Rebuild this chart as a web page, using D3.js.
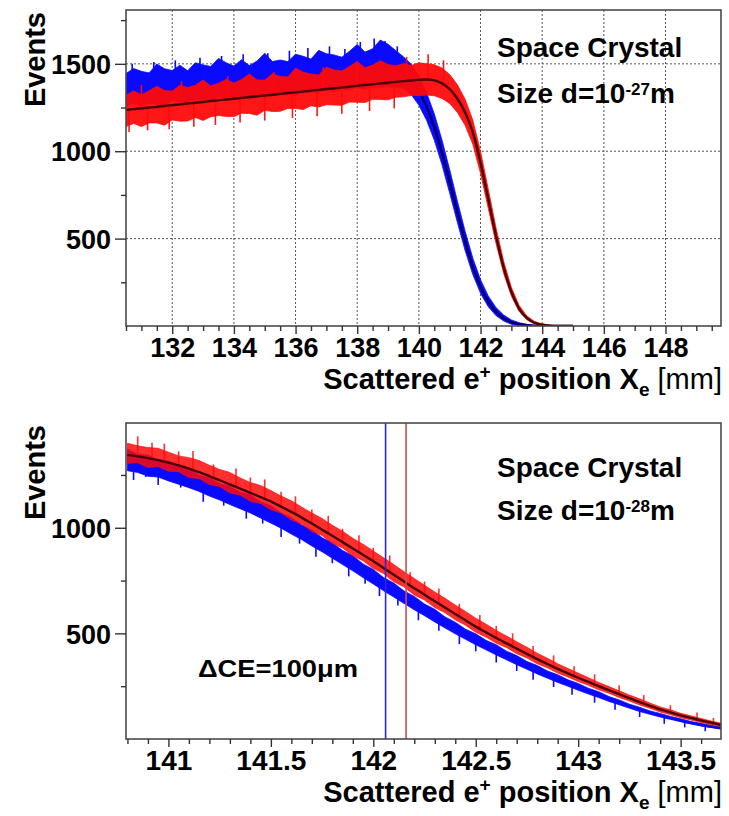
<!DOCTYPE html>
<html><head><meta charset="utf-8">
<script src="https://cdn.jsdelivr.net/npm/d3@7"></script>
<style>
body{margin:0;background:#fff}
svg text{font-family:"Liberation Sans",Arial,Helvetica,sans-serif;font-weight:bold;fill:#000}
</style>
</head><body>
<svg id="chart" width="729" height="816"></svg>
<script>
// ---------------- DATA ----------------
// Top panel: d = 1e-27 m, bin centres (mm)
const topX = [130.5,130.75,131,131.25,131.5,131.75,132,132.25,132.5,132.75,133,133.25,133.5,133.75,134,134.25,134.5,134.75,135,135.25,135.5,135.75,136,136.25,136.5,136.75,137,137.25,137.5,137.75,138,138.25,138.5,138.75,139,139.25,139.5,139.75,140,140.25,140.5,140.75,141,141.25,141.5,141.75,142,142.25,142.5,142.75,143,143.25,143.5,143.75,144,144.25,144.5,144.75,145];
const topBlueFit = [1350,1353,1357,1360,1364,1367,1370,1374,1377,1380,1384,1387,1391,1394,1397,1401,1404,1408,1411,1414,1418,1421,1424,1428,1431,1435,1438,1441,1445,1448,1451,1455,1458,1461,1462,1458,1445,1410,1345,1255,1138,992,826,652,486,340,225,140,82,45,22,10,4,1,0,0,0,0,0];
const topBlueHi = [1445,1473,1457,1448,1499,1472,1462,1492,1461,1506,1494,1485,1531,1506,1487,1524,1490,1516,1561,1513,1522,1513,1555,1543,1527,1577,1558,1551,1538,1572,1611,1567,1586,1636,1612,1576,1540,1498,1430,1335,1214,1064,894,714,542,388,265,172,106,63,35,19,10,5,3,2,1,0,0];
const topBlueLo = [1260,1275,1255,1275,1268,1257,1290,1282,1277,1296,1289,1282,1309,1304,1299,1315,1296,1320,1317,1314,1334,1325,1320,1340,1339,1337,1352,1339,1355,1353,1363,1355,1366,1365,1372,1364,1357,1325,1263,1177,1064,922,760,592,432,294,187,110,60,29,10,2,0,0,0,0,0,0,0];
const topRedFit = [1236,1241,1245,1250,1254,1259,1264,1268,1273,1277,1282,1287,1291,1296,1300,1305,1310,1314,1319,1323,1328,1333,1337,1342,1346,1351,1356,1360,1365,1369,1374,1379,1383,1388,1392,1397,1401,1405,1408,1410,1405,1388,1355,1300,1222,1108,935,728,518,335,195,100,46,18,7,2,0,0,0];
const topRedHi = [1321,1345,1323,1346,1372,1347,1344,1378,1365,1377,1408,1373,1389,1411,1390,1410,1442,1408,1407,1443,1428,1425,1475,1452,1442,1436,1481,1465,1459,1485,1514,1477,1493,1518,1496,1489,1501,1491,1506,1500,1495,1476,1439,1380,1298,1178,999,784,564,371,221,118,58,26,12,5,1,0,0];
const topRedLo = [1141,1159,1141,1162,1162,1149,1179,1172,1173,1193,1176,1197,1205,1198,1198,1217,1216,1206,1234,1227,1228,1245,1245,1238,1260,1253,1266,1264,1263,1281,1280,1279,1297,1296,1294,1309,1311,1319,1318,1322,1317,1302,1273,1222,1148,1040,873,674,474,301,171,84,36,12,3,0,0,0,0];
const topBlueFitFrom = 139.5;   // blue fit curve only visible on the edge
// isolated tall bins: [x, base, tip]
const topBlueSpikes = [[130.7,1352,1500],[131.4,1362,1510],[132.1,1371,1520],[132.9,1383,1535],[133.6,1392,1545],[134.3,1402,1555],[135.1,1412,1560],[135.8,1422,1575],[136.4,1430,1590],[137.1,1439,1600],[137.6,1446,1585],[138.1,1452,1625],[138.55,1458,1645],[138.9,1461,1630],[139.3,1455,1600]];
const topRedSpikes = [[130.6,1238,1110],[131.2,1249,1120],[131.9,1262,1125],[132.7,1276,1140],[133.4,1289,1150],[134.2,1304,1165],[135.0,1319,1175],[135.9,1335,1190],[136.7,1350,1200],[137.5,1365,1215],[138.4,1381,1230],[139.2,1396,1245],[131.0,1245,1380],[132.3,1269,1400],[133.8,1297,1430],[135.3,1324,1455],[136.9,1354,1480],[138.0,1374,1500],[139.6,1403,1540],[140.3,1410,1555],[140.8,1385,1520]];

// Bottom panel: d = 1e-28 m (zoom on the edge)
const botX = [140.8,140.85,140.9,140.95,141,141.05,141.1,141.15,141.2,141.25,141.3,141.35,141.4,141.45,141.5,141.55,141.6,141.65,141.7,141.75,141.8,141.85,141.9,141.95,142,142.05,142.1,142.15,142.2,142.25,142.3,142.35,142.4,142.45,142.5,142.55,142.6,142.65,142.7,142.75,142.8,142.85,142.9,142.95,143,143.05,143.1,143.15,143.2,143.25,143.3,143.35,143.4,143.45,143.5,143.55,143.6,143.65,143.7];
const botRedFit = [1345,1338,1330,1320,1308,1295,1280,1263,1245,1225,1205,1185,1165,1145,1125,1100,1075,1048,1020,991,962,932,902,872,842,810,778,746,714,683,652,622,592,562,532,505,478,453,428,403,378,355,332,311,290,270,250,231,212,193,175,157,140,126,112,100,88,77,66];
const botRedHi = [1400,1388,1380,1376,1358,1340,1332,1318,1296,1276,1262,1236,1214,1200,1176,1150,1128,1098,1070,1044,1012,984,950,922,890,858,826,792,760,728,696,666,634,604,572,544,514,488,460,434,406,382,356,334,312,290,268,248,228,208,190,170,152,138,122,110,97,85,74];
const botRedLo = [1305,1308,1285,1290,1268,1265,1238,1233,1205,1195,1165,1155,1125,1115,1085,1070,1037,1018,982,963,926,904,867,844,807,783,744,720,682,658,622,598,564,539,505,483,453,433,404,384,356,337,312,294,272,254,233,217,197,180,161,145,128,115,101,90,78,68,58];
const botBlueFit = [1328,1317,1305,1292,1278,1261,1243,1223,1203,1183,1163,1143,1123,1098,1073,1046,1018,989,960,930,900,870,840,808,776,744,712,681,650,620,590,560,530,503,476,451,426,401,376,353,330,309,288,268,248,229,210,191,173,156,139,125,111,99,87,76,66,58,50];
const botBlueHi = [1373,1347,1345,1320,1316,1289,1279,1249,1238,1209,1197,1168,1156,1123,1105,1070,1049,1013,990,953,929,892,868,829,803,764,738,701,675,639,614,578,553,520,498,467,446,416,395,367,348,322,304,280,263,240,224,201,185,165,150,133,121,107,96,83,74,64,56];
const botBlueLo = [1270,1262,1244,1240,1222,1206,1190,1172,1150,1132,1110,1090,1070,1046,1022,998,970,944,914,886,856,826,796,764,734,702,672,642,612,584,554,526,498,472,446,422,398,375,352,330,308,288,268,250,231,213,196,178,162,146,130,117,104,93,82,71,62,55,47];
const botBlueFitVisible = false;  // hidden under the blue histogram
const botRedSpikes = [[140.85,1338,1433],[140.92,1326,1402],[140.98,1313,1398],[141.05,1295,1362],[141.12,1273,1363],[141.22,1237,1300],[141.33,1193,1281],[141.4,1165,1238],[141.47,1137,1229],[141.55,1100,1170],[141.62,1064,1149],[141.7,1020,1086],[141.78,973,1057],[141.85,932,995],[141.93,884,964],[142.0,842,905],[142.08,791,869],[142.18,727,790],[142.25,683,745],[142.32,640,712],[142.42,580,640],[142.52,521,587],[142.6,478,535],[142.68,438,500],[142.78,388,440],[142.88,341,396],[142.98,298,345],[143.08,258,306],[143.2,212,255],[143.32,168,208],[143.45,126,160],[143.58,93,125],[143.66,73,100]];
const botBlueSpikes = [[140.83,1321,1226],[140.89,1307,1240],[140.95,1292,1202],[141.06,1257,1190],[141.17,1215,1123],[141.27,1175,1105],[141.38,1131,1043],[141.46,1093,1020],[141.55,1046,956],[141.64,995,925],[141.72,948,863],[141.8,900,832],[141.88,852,770],[141.96,802,735],[142.03,757,677],[142.12,700,632],[142.22,638,562],[142.32,578,512],[142.42,519,449],[142.5,476,415],[142.6,426,362],[142.7,376,322],[142.78,339,281],[142.88,296,246],[142.97,260,210],[143.08,214,172],[143.18,180,138],[143.3,139,104],[143.42,106,72],[143.52,85,55],[143.62,63,37]];
const ceBlue = 142.06, ceRed = 142.16;

// Axis ticks / labels
const topXMajor = [132,134,136,138,140,142,144,146,148];
const topXMinor = [130.5,131,131.5,132.5,133,133.5,134.5,135,135.5,136.5,137,137.5,138.5,139,139.5,140.5,141,141.5,142.5,143,143.5,144.5,145,145.5,146.5,147,147.5,148.5,149,149.5];
const topYMajor = [500,1000,1500];
const topYMinor = [250,750,1250,1750];
const botXMajor = [141,141.5,142,142.5,143,143.5];
const botXMinor = [140.8,140.9,141.1,141.2,141.3,141.4,141.6,141.7,141.8,141.9,142.1,142.2,142.3,142.4,142.6,142.7,142.8,142.9,143.1,143.2,143.3,143.4,143.6];
const botYMajor = [500,1000];
const botYMinor = [250,750,1250];

const label1 = "Space Crystal";
const topLabel2 = ["Size d=10","-27","m"];
const botLabel2 = ["Size d=10","-28","m"];
const ceLabel = "\u0394CE=100\u03bcm";

// ---------------- DRAWING ----------------
const svg = d3.select("#chart");
svg.append("rect").attr("width",729).attr("height",816).attr("fill","#fff");

function drawPanel(p, idx) {
  const x = d3.scaleLinear().domain(p.xDomain).range([p.left, p.right]);
  const y = d3.scaleLinear().domain(p.yDomain).range([p.bottom, p.top]);
  const g = svg.append("g");
  const clipId = "clip" + idx;
  svg.append("clipPath").attr("id", clipId).append("rect")
    .attr("x", p.left).attr("y", p.top).attr("width", p.right - p.left).attr("height", p.bottom - p.top);
  const plot = g.append("g").attr("clip-path", `url(#${clipId})`);

  if (p.grid) {
    plot.selectAll("line.gx").data(p.xMajor).enter().append("line")
      .attr("x1", d => x(d)).attr("x2", d => x(d)).attr("y1", p.top).attr("y2", p.bottom)
      .attr("stroke", "#555").attr("stroke-width", 1).attr("stroke-dasharray", "2,2");
    plot.selectAll("line.gy").data(p.yMajor).enter().append("line")
      .attr("y1", d => y(d)).attr("y2", d => y(d)).attr("x1", p.left).attr("x2", p.right)
      .attr("stroke", "#555").attr("stroke-width", 1).attr("stroke-dasharray", "2,2");
  }

  const rows = (hi, lo) => p.xs.map((v, i) => ({x: v, hi: hi[i], lo: lo[i]}));
  const area = d3.area().x(d => x(d.x)).y0(d => y(d.lo)).y1(d => y(d.hi));
  const fitLine = (arr, from) => d3.line().curve(d3.curveMonotoneX)
    .defined((d, i) => p.xs[i] >= from).x((d, i) => x(p.xs[i])).y(d => y(d))(arr);
  const spikes = (arr, color, op) => plot.append("g").selectAll("line").data(arr).enter().append("line")
    .attr("x1", d => x(d[0])).attr("x2", d => x(d[0])).attr("y1", d => y(d[1])).attr("y2", d => y(d[2]))
    .attr("stroke", color).attr("stroke-opacity", op).attr("stroke-width", 1.6);

  // blue histogram (+ fit)
  if (p.blueFitUnder) plot.append("path").attr("d", fitLine(p.blueFit, -1e9)).attr("fill", "none")
    .attr("stroke", "#000068").attr("stroke-width", 2.4);
  plot.append("path").attr("d", area(rows(p.blueHi, p.blueLo)))
    .attr("fill", "#0a0aff").attr("stroke", "#0a0aff").attr("stroke-width", 0.8).attr("stroke-linejoin","bevel");
  spikes(p.blueSpikes, "#0a0aff", 1);
  if (!p.blueFitUnder) plot.append("path").attr("d", fitLine(p.blueFit, p.blueFitFrom)).attr("fill", "none")
    .attr("stroke", "#000068").attr("stroke-width", 2.4);
  // red histogram + fit
  plot.append("path").attr("d", area(rows(p.redHi, p.redLo)))
    .attr("fill", "#ff0a0a").attr("fill-opacity", p.redOpacity).attr("stroke", "#ff0a0a")
    .attr("stroke-opacity", p.redOpacity).attr("stroke-width", 0.8).attr("stroke-linejoin","bevel");
  spikes(p.redSpikes, "#ff0a0a", p.redOpacity);
  plot.append("path").attr("d", fitLine(p.redFit, -1e9)).attr("fill", "none")
    .attr("stroke", "#4a0000").attr("stroke-width", 2.4);

  if (p.vlines) {
    p.vlines.forEach(v => {
      plot.append("line").attr("x1", x(v.x)).attr("x2", x(v.x)).attr("y1", p.top).attr("y2", p.bottom)
        .attr("stroke", v.color).attr("stroke-width", 1.6);
    });
  }

  // frame
  g.append("rect").attr("x", p.left).attr("y", p.top).attr("width", p.right - p.left).attr("height", p.bottom - p.top)
    .attr("fill", "none").attr("stroke", "#4a4a4a").attr("stroke-width", 1.6);

  // axes
  const styleAxis = (sel, fs) => {
    sel.select(".domain").remove();
    sel.selectAll("line").attr("stroke", "#333").attr("stroke-width", 1.4);
    sel.selectAll("text").style("font-size", fs + "px").style("font-family", '"Liberation Sans", Arial, sans-serif')
      .style("font-weight", "bold").attr("fill", "#000");
  };
  const gxMin = g.append("g").attr("transform", `translate(0,${p.bottom})`)
    .call(d3.axisBottom(x).tickValues(p.xMinor).tickSize(5).tickFormat(""));
  styleAxis(gxMin, 10);
  const gx = g.append("g").attr("transform", `translate(0,${p.bottom})`)
    .call(d3.axisBottom(x).tickValues(p.xMajor).tickSize(8).tickFormat(d => String(d)));
  styleAxis(gx, p.xFont);
  gx.selectAll("text").attr("dy", null).attr("y", p.xLabelOffset);

  const gyMin = g.append("g").attr("transform", `translate(${p.left},0)`)
    .call(d3.axisLeft(y).tickValues(p.yMinor).tickSize(5).tickFormat(""));
  styleAxis(gyMin, 10);
  const gy = g.append("g").attr("transform", `translate(${p.left},0)`)
    .call(d3.axisLeft(y).tickValues(p.yMajor).tickSize(11).tickFormat(d => String(d)));
  styleAxis(gy, p.yFont);
  gy.selectAll("text").attr("x", -15).attr("dy", "0.36em");

  // axis titles
  const xt = g.append("text").attr("x", p.right + 1).attr("y", p.xTitleY).attr("text-anchor", "end")
    .style("font-size", "29px");
  xt.append("tspan").text("Scattered e");
  xt.append("tspan").attr("dy", -11).style("font-size", "19px").text("+");
  xt.append("tspan").attr("dy", 11).text(" position X");
  xt.append("tspan").attr("dy", 7).style("font-size", "19px").text("e");
  xt.append("tspan").attr("dy", -7).style("font-weight", "normal").text(" [mm]");

  g.append("text").attr("transform", `translate(45,${p.top + 2}) rotate(-90)`).attr("text-anchor", "end")
    .style("font-size", "29px").text("Events");

  // labels
  g.append("text").attr("x", 497).attr("y", p.lab1Y).style("font-size", "28px").text(label1);
  const t2 = g.append("text").attr("x", 497).attr("y", p.lab2Y).style("font-size", "28px");
  t2.append("tspan").text(p.lab2[0]);
  t2.append("tspan").attr("dy", -8).style("font-size", "17px").text(p.lab2[1]);
  t2.append("tspan").attr("dy", 8).text(p.lab2[2]);

  if (p.ce) {
    g.append("text").attr("x", 198).attr("y", 677).style("font-size", "24px")
      .attr("textLength", 160).attr("lengthAdjust", "spacingAndGlyphs").text(ceLabel);
  }
}

drawPanel({
  left: 126, right: 721, top: 10, bottom: 326,
  xDomain: [130.5, 149.8], yDomain: [0, 1808],
  xs: topX, blueFit: topBlueFit, blueHi: topBlueHi, blueLo: topBlueLo, blueFitFrom: topBlueFitFrom, blueFitUnder: false,
  redFit: topRedFit, redHi: topRedHi, redLo: topRedLo, redOpacity: 0.95,
  blueSpikes: topBlueSpikes, redSpikes: topRedSpikes,
  xMajor: topXMajor, xMinor: topXMinor, yMajor: topYMajor, yMinor: topYMinor,
  grid: true, xFont: 27, yFont: 27, xLabelOffset: 31, xTitleY: 389,
  lab1Y: 57, lab2Y: 103, lab2: topLabel2
}, 0);

drawPanel({
  left: 126, right: 721, top: 423, bottom: 739,
  xDomain: [140.793, 143.697], yDomain: [0, 1496],
  xs: botX, blueFit: botBlueFit, blueHi: botBlueHi, blueLo: botBlueLo, blueFitFrom: -1e9, blueFitUnder: !botBlueFitVisible,
  redFit: botRedFit, redHi: botRedHi, redLo: botRedLo, redOpacity: 0.85,
  blueSpikes: botBlueSpikes, redSpikes: botRedSpikes,
  xMajor: botXMajor, xMinor: botXMinor, yMajor: botYMajor, yMinor: botYMinor,
  grid: false, xFont: 28, yFont: 27, xLabelOffset: 31, xTitleY: 802,
  lab1Y: 477, lab2Y: 520, lab2: botLabel2,
  vlines: [{x: ceBlue, color: "#2a2ad0"}, {x: ceRed, color: "#c85050"}],
  ce: true
}, 1);
</script>
</body></html>
